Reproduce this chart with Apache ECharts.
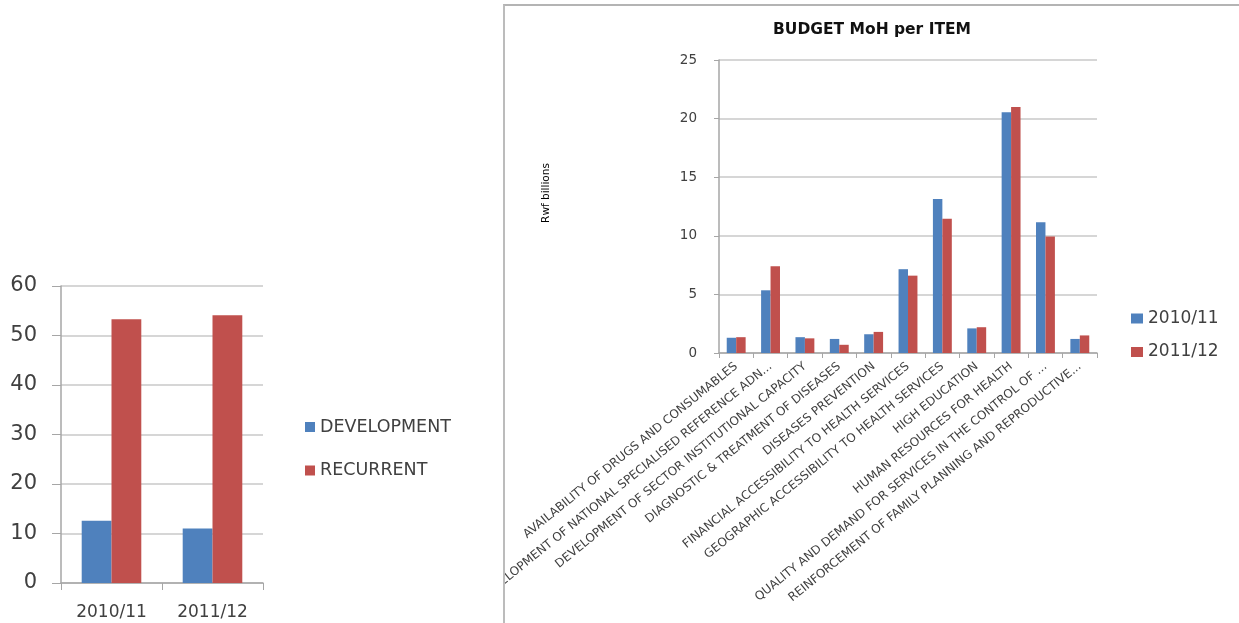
<!DOCTYPE html>
<html>
<head>
<meta charset="utf-8">
<script src="https://cdn.jsdelivr.net/npm/echarts@6/dist/echarts.min.js"></script>
<style>
html,body{margin:0;padding:0;background:#fff;}
#left{position:absolute;left:0;top:0;width:503px;height:623px;}
#rightWrap{position:absolute;left:503px;top:4px;width:740px;height:625px;border-top:2px solid #b4b4b4;border-left:2px solid #bcbcbc;box-sizing:border-box;overflow:hidden;}
#right{position:absolute;left:-2px;top:-6px;width:740px;height:629px;}
</style>
</head>
<body>
<div id="left"></div>
<div id="rightWrap"><div id="right"></div></div>
<script>
// Left chart data
const yearCats = ['2010/11', '2011/12'];
const development = [12.6, 11.0];
const recurrent = [53.3, 54.1];

// Right chart data
const items = [
  'AVAILABILITY OF DRUGS AND CONSUMABLES',
  'DEVELOPMENT OF NATIONAL SPECIALISED REFERENCE ADN...',
  'DEVELOPMENT OF SECTOR INSTITUTIONAL CAPACITY',
  'DIAGNOSTIC & TREATMENT OF DISEASES',
  'DISEASES PREVENTION',
  'FINANCIAL ACCESSIBILITY TO HEALTH SERVICES',
  'GEOGRAPHIC ACCESSIBILITY TO HEALTH SERVICES',
  'HIGH EDUCATION',
  'HUMAN RESOURCES FOR HEALTH',
  'QUALITY AND DEMAND FOR SERVICES IN THE CONTROL OF ...',
  'REINFORCEMENT OF FAMILY PLANNING AND REPRODUCTIVE...'
];
const budget2010 = [1.3, 5.35, 1.35, 1.2, 1.6, 7.15, 13.15, 2.1, 20.55, 11.15, 1.2];
const budget2011 = [1.35, 7.4, 1.25, 0.7, 1.8, 6.6, 11.45, 2.2, 21.0, 9.95, 1.5];

const BLUE = '#4F81BD';
const RED = '#C0504D';
const FONT = 'DejaVu Sans, sans-serif';
const TXT = '#404040';
const GRID = '#c8c8c8';
const AXIS = '#a6a6a6';

const leftChart = echarts.init(document.getElementById('left'), null, {renderer: 'canvas'});
leftChart.setOption({
  animation: false,
  textStyle: {fontFamily: FONT},
  grid: {left: 61, top: 286, width: 202, height: 297, containLabel: false, outerBoundsMode: 'none'},
  legend: {
    orient: 'vertical', left: 305, top: 418, padding: 0, itemWidth: 10, itemHeight: 10, itemGap: 25.5,
    icon: 'rect',
    textStyle: {fontSize: 17.5, color: TXT, fontFamily: FONT},
    data: ['DEVELOPMENT', 'RECURRENT']
  },
  xAxis: {
    type: 'category', data: yearCats,
    axisLine: {lineStyle: {color: AXIS, width: 1.5}},
    axisTick: {show: true, length: 7, lineStyle: {color: AXIS}},
    axisLabel: {fontSize: 17, color: TXT, margin: 21}
  },
  yAxis: {
    type: 'value', min: 0, max: 60, interval: 10,
    axisLine: {show: true, lineStyle: {color: AXIS, width: 1.5}},
    axisTick: {show: true, length: 9, lineStyle: {color: AXIS}},
    axisLabel: {fontSize: 21, color: TXT, margin: 24},
    splitLine: {lineStyle: {color: GRID, width: 1.5}}
  },
  series: [
    {name: 'DEVELOPMENT', type: 'bar', data: development, itemStyle: {color: BLUE}, barGap: '0%', barCategoryGap: '41%'},
    {name: 'RECURRENT', type: 'bar', data: recurrent, itemStyle: {color: RED}, barGap: '0%', barCategoryGap: '41%'}
  ]
});

// right chart: container origin at page x=503, y=0
const rightChart = echarts.init(document.getElementById('right'), null, {renderer: 'canvas'});
rightChart.setOption({
  animation: false,
  textStyle: {fontFamily: FONT},
  title: {
    text: 'BUDGET MoH per ITEM', left: 369, top: 22, textAlign: 'center', padding: 0,
    textStyle: {fontSize: 15.5, fontWeight: 'bold', color: '#111', fontFamily: FONT}
  },
  graphic: [{
    type: 'text', x: 43, y: 193, rotation: Math.PI / 2,
    style: {text: 'Rwf billions', fontSize: 10.5, fontFamily: FONT, fill: '#000', align: 'center', verticalAlign: 'middle'}
  }],
  grid: {left: 216, top: 60, width: 378, height: 293, containLabel: false, outerBoundsMode: 'none'},
  legend: {
    orient: 'vertical', left: 628, top: 310, padding: 0, itemWidth: 12, itemHeight: 10, itemGap: 16.5,
    icon: 'rect',
    textStyle: {fontSize: 17, color: TXT, fontFamily: FONT},
    data: ['2010/11', '2011/12']
  },
  xAxis: {
    type: 'category', data: items,
    axisLine: {lineStyle: {color: AXIS, width: 1.5}},
    axisTick: {show: true, length: 5, lineStyle: {color: AXIS}},
    axisLabel: {fontSize: 12, color: TXT, rotate: 39, interval: 0, margin: 12, fontFamily: FONT}
  },
  yAxis: {
    type: 'value', min: 0, max: 25, interval: 5,
    axisLine: {show: true, lineStyle: {color: AXIS, width: 1.5}},
    axisTick: {show: true, length: 5, lineStyle: {color: AXIS}},
    axisLabel: {fontSize: 13.5, color: TXT, margin: 22},
    splitLine: {lineStyle: {color: GRID, width: 1.5}}
  },
  series: [
    {name: '2010/11', type: 'bar', data: budget2010, itemStyle: {color: BLUE}, barGap: '0%', barCategoryGap: '45%'},
    {name: '2011/12', type: 'bar', data: budget2011, itemStyle: {color: RED}, barGap: '0%', barCategoryGap: '45%'}
  ]
});
</script>
</body>
</html>
